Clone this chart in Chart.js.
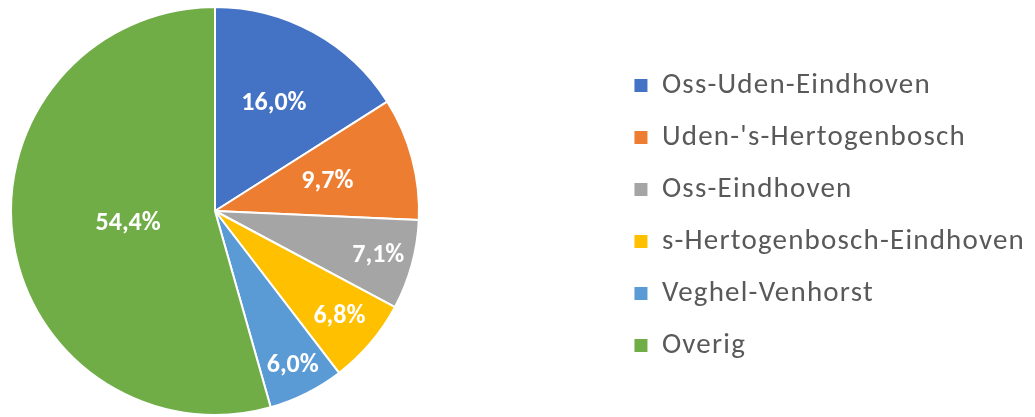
<!DOCTYPE html>
<html>
<head>
<meta charset="utf-8">
<script src="https://cdn.jsdelivr.net/npm/chart.js@4.4.1/dist/chart.umd.min.js"></script>
<style>
html,body{margin:0;padding:0;background:#fff;}
</style>
</head>
<body>
<canvas id="c" width="1035" height="417"></canvas>
<script>
const categories = ["Oss-Uden-Eindhoven", "Uden-'s-Hertogenbosch", "Oss-Eindhoven", "s-Hertogenbosch-Eindhoven", "Veghel-Venhorst", "Overig"];
const shares = [16.0, 9.7, 7.1, 6.8, 6.0, 54.4];
const sliceColors = ["#4472C4", "#ED7D31", "#A5A5A5", "#FFC000", "#5B9BD5", "#70AD47"];
const labelRadiusFactor = [0.6, 0.57, 0.83, 0.8, 0.85, 0.43];

function fmt(v){ return v.toFixed(1).replace('.', ',') + '%'; }

// keep the pie in a square area on the left side of the canvas
const pieAreaPlugin = {
  id: 'pieArea',
  beforeUpdate(chart) { chart.ctx.letterSpacing = '1.2px'; },
  afterLayout(chart, args, opts) {
    const a = chart.chartArea;
    a.left = opts.left; a.top = opts.top;
    a.right = opts.left + opts.size; a.bottom = opts.top + opts.size;
    a.width = opts.size; a.height = opts.size;
  }
};

const labelPlugin = {
  id: 'sliceLabels',
  afterDatasetsDraw(chart) {
    const ctx = chart.ctx;
    const meta = chart.getDatasetMeta(0);
    ctx.save();
    ctx.letterSpacing = '0px';
    ctx.fillStyle = '#ffffff';
    ctx.font = 'bold 26px Carlito';
    ctx.textAlign = 'center';
    ctx.textBaseline = 'middle';
    meta.data.forEach((arc, i) => {
      const p = arc.getProps(['x','y','startAngle','endAngle','outerRadius'], true);
      const mid = (p.startAngle + p.endAngle) / 2;
      const r = p.outerRadius * labelRadiusFactor[i];
      ctx.fillText(fmt(shares[i]), p.x + Math.cos(mid) * r, p.y + Math.sin(mid) * r);
    });
    ctx.restore();
  }
};

new Chart(document.getElementById('c'), {
  type: 'pie',
  data: {
    labels: categories,
    datasets: [{
      data: shares,
      backgroundColor: sliceColors,
      borderColor: '#ffffff',
      borderWidth: 2
    }]
  },
  options: {
    responsive: false,
    animation: false,
    layout: { padding: { left: 10, right: 0, top: 15, bottom: 1 } },
    plugins: {
      tooltip: { enabled: false },
      pieArea: { left: 10, top: 6, size: 410 },
      legend: {
        position: 'right',
        labels: {
          boxWidth: 13,
          boxHeight: 13,
          padding: 23,
          color: '#595959',
          font: { family: 'Carlito', size: 29 },
          generateLabels(chart) {
            return Chart.overrides.pie.plugins.legend.labels.generateLabels(chart)
              .map(l => Object.assign(l, { lineWidth: 0, strokeStyle: 'rgba(0,0,0,0)' }));
          }
        }
      }
    }
  },
  plugins: [pieAreaPlugin, labelPlugin]
});
</script>
</body>
</html>
